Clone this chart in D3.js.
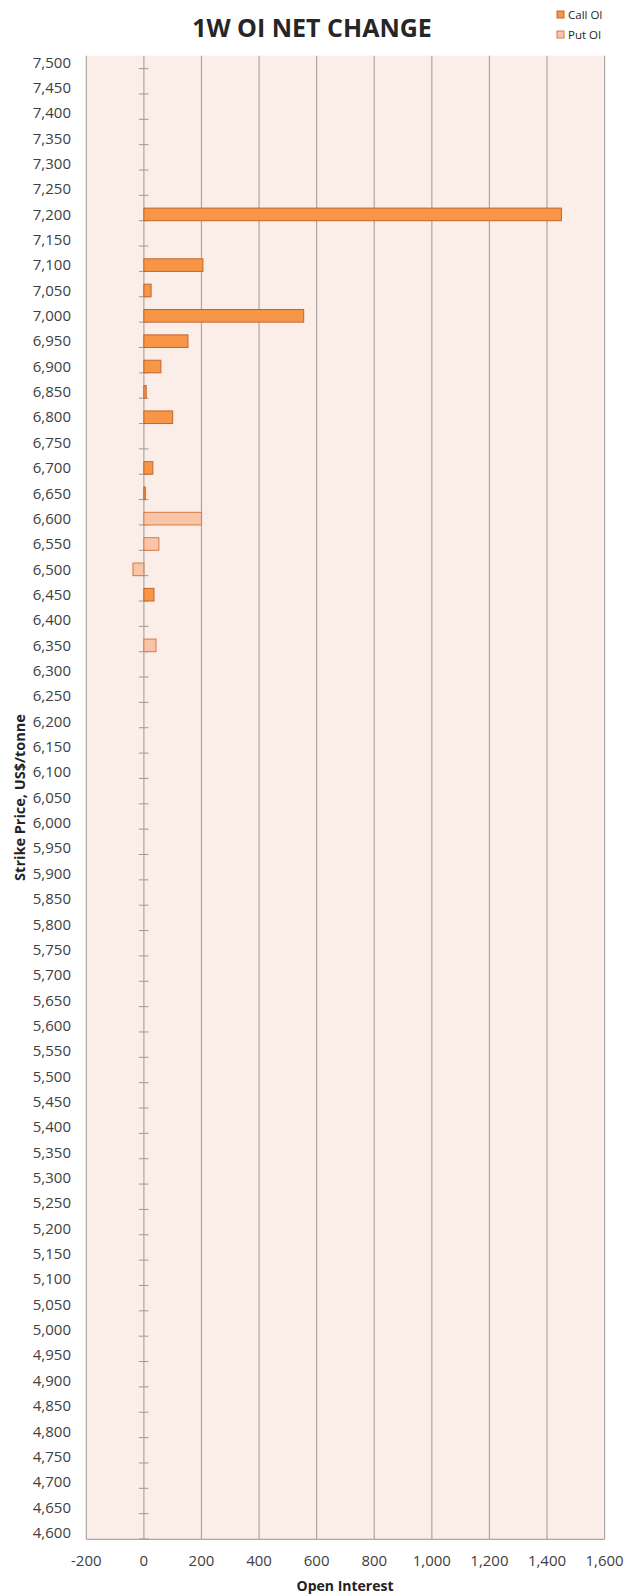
<!DOCTYPE html>
<html>
<head>
<meta charset="utf-8">
<script src="https://cdn.jsdelivr.net/npm/d3@7"></script>
<style>
  body { margin: 0; background: #fff; }
  svg { display: block; font-family: "Open Sans", sans-serif; }
</style>
</head>
<body>
<svg id="chart" width="634" height="1596"></svg>
<script>
// strike prices, top to bottom
var strikes = [7500, 7450, 7400, 7350, 7300, 7250, 7200, 7150, 7100, 7050, 7000, 6950, 6900, 6850, 6800, 6750,
  6700, 6650, 6600, 6550, 6500, 6450, 6400, 6350, 6300, 6250, 6200, 6150, 6100, 6050, 6000, 5950, 5900, 5850,
  5800, 5750, 5700, 5650, 5600, 5550, 5500, 5450, 5400, 5350, 5300, 5250, 5200, 5150, 5100, 5050, 5000, 4950,
  4900, 4850, 4800, 4750, 4700, 4650, 4600];
var callOI = [0, 0, 0, 0, 0, 0, 1450, 0, 205, 25, 555, 153, 59, 8, 100, 0,
  31, 5, 0, 0, 0, 35, 0, 0, 0, 0, 0, 0, 0, 0, 0, 0, 0, 0,
  0, 0, 0, 0, 0, 0, 0, 0, 0, 0, 0, 0, 0, 0, 0, 0, 0, 0,
  0, 0, 0, 0, 0, 0, 0];
var putOI = [0, 0, 0, 0, 0, 0, 0, 0, 0, 0, 0, 0, 0, 0, 0, 0,
  0, 0, 200, 52, -38, 0, 0, 42, 0, 0, 0, 0, 0, 0, 0, 0, 0, 0,
  0, 0, 0, 0, 0, 0, 0, 0, 0, 0, 0, 0, 0, 0, 0, 0, 0, 0,
  0, 0, 0, 0, 0, 0, 0];
var xTicks = [-200, 0, 200, 400, 600, 800, 1000, 1200, 1400, 1600];

var plot = {left: 86.3, right: 604.6, top: 55.7, bottom: 1539.3};
var barH = 12.6;

var svg = d3.select('#chart');

var x = d3.scaleLinear().domain([-200, 1600]).range([plot.left, plot.right]);
var y = d3.scalePoint().domain(strikes).range([plot.top + 6.6, plot.bottom - 6.6]);

// excel style numbers, plain hyphen for negatives
function fmt(d) { return d3.format(',')(d).replace('\u2212', '-'); }

// plot background
svg.append('rect')
  .attr('x', plot.left).attr('y', plot.top)
  .attr('width', plot.right - plot.left).attr('height', plot.bottom - plot.top)
  .attr('fill', '#fbede8');

// vertical gridlines
svg.append('g').selectAll('line')
  .data(xTicks)
  .enter().append('line')
  .attr('x1', function(d) { return x(d); })
  .attr('x2', function(d) { return x(d); })
  .attr('y1', plot.top).attr('y2', plot.bottom)
  .attr('stroke', '#aca6a4').attr('stroke-width', 1.2);

// bottom border
svg.append('line')
  .attr('x1', plot.left).attr('x2', plot.right)
  .attr('y1', plot.bottom).attr('y2', plot.bottom)
  .attr('stroke', '#aca6a4').attr('stroke-width', 1.2);

// tick marks on zero line
svg.append('g').selectAll('line')
  .data(strikes)
  .enter().append('line')
  .attr('x1', x(0) - 5).attr('x2', x(0) + 4.5)
  .attr('y1', function(d) { return y(d) + 6.3; })
  .attr('y2', function(d) { return y(d) + 6.3; })
  .attr('stroke', '#9a9a9a').attr('stroke-width', 1);

function drawBars(values, fill, stroke) {
  var rows = strikes.map(function(s, i) { return {s: s, v: values[i]}; })
    .filter(function(d) { return d.v !== 0; });
  svg.append('g').selectAll('rect')
    .data(rows)
    .enter().append('rect')
    .attr('x', function(d) { return x(Math.min(0, d.v)); })
    .attr('y', function(d) { return y(d.s) - barH / 2; })
    .attr('width', function(d) { return Math.abs(x(d.v) - x(0)); })
    .attr('height', barH)
    .attr('fill', fill)
    .attr('stroke', stroke)
    .attr('stroke-width', 1);
}
drawBars(callOI, '#f79646', '#c5652a');
drawBars(putOI, '#fac4a8', '#d27c44');

// y labels
svg.append('g').selectAll('text')
  .data(strikes)
  .enter().append('text')
  .attr('x', 71)
  .attr('y', function(d) { return y(d); })
  .attr('dy', '0.35em')
  .attr('text-anchor', 'end')
  .attr('font-size', '15px')
  .attr('fill', '#404040')
  .text(fmt);

// x labels
svg.append('g').selectAll('text')
  .data(xTicks)
  .enter().append('text')
  .attr('x', function(d) { return x(d); })
  .attr('y', 1561)
  .attr('dy', '0.35em')
  .attr('text-anchor', 'middle')
  .attr('font-size', '15px')
  .attr('fill', '#404040')
  .text(fmt);

// axis titles
svg.append('text')
  .attr('x', 345).attr('y', 1586).attr('dy', '0.35em')
  .attr('text-anchor', 'middle')
  .attr('font-size', '14px').attr('font-weight', 'bold')
  .attr('fill', '#222')
  .text('Open Interest');

svg.append('text')
  .attr('transform', 'translate(19.5,' + (plot.top + plot.bottom) / 2 + ') rotate(-90)')
  .attr('dy', '0.35em')
  .attr('text-anchor', 'middle')
  .attr('font-size', '14.5px').attr('font-weight', 'bold')
  .attr('fill', '#222')
  .text('Strike Price, US$/tonne');

// title
svg.append('text')
  .attr('x', 312).attr('y', 28).attr('dy', '0.35em')
  .attr('text-anchor', 'middle')
  .attr('font-size', '25px').attr('font-weight', 'bold')
  .attr('fill', '#262626')
  .text('1W OI NET CHANGE');

// legend
var legend = [{name: 'Call OI', fill: '#f79646', stroke: '#c5652a'},
              {name: 'Put OI', fill: '#fac4a8', stroke: '#d27c44'}];
var lg = svg.append('g').selectAll('g')
  .data(legend)
  .enter().append('g')
  .attr('transform', function(d, i) { return 'translate(557,' + (14.5 + i * 20) + ')'; });
lg.append('rect')
  .attr('x', 0).attr('y', -3.5).attr('width', 7).attr('height', 7)
  .attr('fill', function(d) { return d.fill; })
  .attr('stroke', function(d) { return d.stroke; });
lg.append('text')
  .attr('x', 11).attr('dy', '0.35em')
  .attr('font-size', '11.5px')
  .attr('fill', '#262626')
  .text(function(d) { return d.name; });
</script>
</body>
</html>
